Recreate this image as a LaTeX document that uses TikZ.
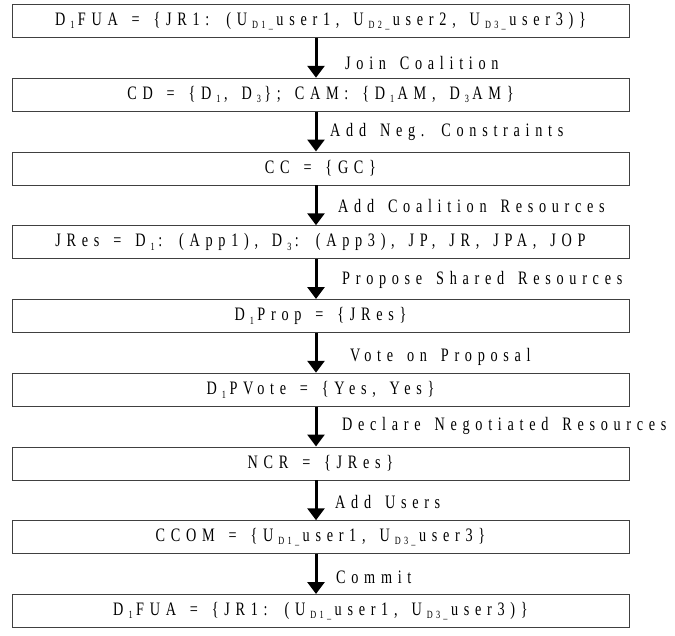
\documentclass[tikz,border=0pt]{standalone}
\usepackage{fontspec}
\usetikzlibrary{arrows.meta}
\newfontfamily\flowfont[FakeStretch=0.75,LetterSpace=30,WordSpace=1.5]{Liberation Serif}
% lowered small index, e.g. D_1 or U_{D1_}
\newcommand{\dsub}[1]{\kern5pt\raisebox{-3.5pt}{\fontsize{11}{12}\selectfont #1}\kern3.5pt}
\tikzset{
  x=1pt, y=-1pt,
  every node/.style={font=\flowfont\fontsize{19}{22}\selectfont, inner sep=0pt},
  statebox/.style={draw=black!75, line width=0.9pt, minimum width=617pt, minimum height=33pt, anchor=north},
  flow/.style={line width=3pt, -{Triangle[width=17pt,length=12pt]}},
  steplabel/.style={anchor=west}
}
\begin{document}
\begin{tikzpicture}
\useasboundingbox (0,0) rectangle (675,635);
% state boxes
\node[statebox] (b1) at (320.5,4)      {D\dsub{1}FUA = \{JR1: (U\dsub{D1\_}user1, U\dsub{D2\_}user2, U\dsub{D3\_}user3)\}};
\node[statebox] (b2) at (320.5,77.75)  {CD = \{D\dsub{1}, D\dsub{3}\}; CAM: \{D\dsub{1}AM, D\dsub{3}AM\}};
\node[statebox] (b3) at (320.5,151.5)  {CC = \{GC\}};
\node[statebox] (b4) at (320.5,225.25) {JRes = D\dsub{1}: (App1), D\dsub{3}: (App3), JP, JR, JPA, JOP};
\node[statebox] (b5) at (320.5,299)    {D\dsub{1}Prop = \{JRes\}};
\node[statebox] (b6) at (320.5,372.75) {D\dsub{1}PVote = \{Yes, Yes\}};
\node[statebox] (b7) at (320.5,446.5)  {NCR = \{JRes\}};
\node[statebox] (b8) at (320.5,520.25) {CCOM = \{U\dsub{D1\_}user1, U\dsub{D3\_}user3\}};
\node[statebox] (b9) at (320.5,594)    {D\dsub{1}FUA = \{JR1: (U\dsub{D1\_}user1, U\dsub{D3\_}user3)\}};
% transitions
\foreach \a/\b in {b1/b2,b2/b3,b3/b4,b4/b5,b5/b6,b6/b7,b7/b8,b8/b9}
  \draw[flow] ([xshift=-4.5pt]\a.south) -- ([xshift=-4.5pt]\b.north);
% transition labels
\node[steplabel] (l1) at (345,62.5)  {Join Coalition};
\node[steplabel] (l2) at (330,131.5) {Add Neg. Constraints};
\node[steplabel] (l3) at (338,206)   {Add Coalition Resources};
\node[steplabel] (l4) at (342,280)   {Propose Shared Resources};
\node[steplabel] (l5) at (350,357)   {Vote on Proposal};
\node[steplabel] (l6) at (342,426)   {Declare Negotiated Resources};
\node[steplabel] (l7) at (335,502)   {Add Users};
\node[steplabel] (l8) at (336,577)   {Commit};
\end{tikzpicture}
\end{document}
